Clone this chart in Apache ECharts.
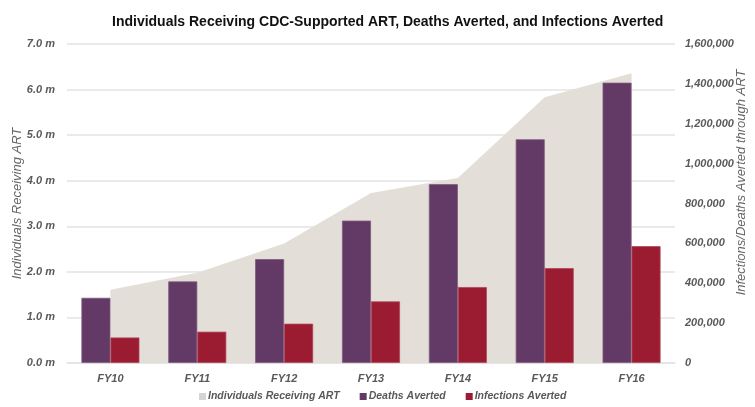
<!DOCTYPE html>
<html>
<head>
<meta charset="utf-8">
<script src="https://cdn.jsdelivr.net/npm/echarts@6/dist/echarts.min.js"></script>
<style>
html,body{margin:0;padding:0;background:#fff;}
#chart{width:755px;height:407px;}
</style>
</head>
<body>
<div id="chart"></div>
<script>
var categories = ['FY10','FY11','FY12','FY13','FY14','FY15','FY16'];
var individualsART = [1610000, 1980000, 2620000, 3730000, 4060000, 5830000, 6360000];
var deathsAverted = [327000, 409000, 521000, 714000, 897000, 1122000, 1406000];
var infectionsAverted = [128000, 157000, 197000, 309000, 381000, 476000, 586000];

var FONT = 'Liberation Sans, Arial, sans-serif';
var labelStyle = {color:'#595959', fontStyle:'italic', fontWeight:'bold', fontSize:11, fontFamily:FONT};
var nameStyle = {color:'#666', fontStyle:'italic', fontWeight:'normal', fontSize:13, fontFamily:FONT};

var chart = echarts.init(document.getElementById('chart'));
chart.setOption({
  animation:false,
  title:{
    text:'Individuals Receiving CDC-Supported ART, Deaths Averted, and Infections Averted',
    left:107, top:10,
    textStyle:{color:'#111', fontSize:14, fontWeight:'bold', fontFamily:FONT}
  },
  grid:{left:67, right:80, top:44, bottom:44, outerBoundsMode:'none', containLabel:false},
  legend:{
    bottom:0, left:194,
    itemWidth:7, itemHeight:7, itemGap:20,
    icon:'rect',
    itemStyle:{borderWidth:0},
    textStyle:Object.assign({}, labelStyle, {fontSize:10.5, padding:[0,0,0,-3]}),
    data:[
      {name:'Individuals Receiving ART', itemStyle:{color:'#d4d4d4', borderWidth:0}},
      {name:'Deaths Averted', itemStyle:{borderWidth:0}},
      {name:'Infections Averted', itemStyle:{borderWidth:0}}
    ]
  },
  xAxis:{
    type:'category', data:categories, boundaryGap:true,
    axisTick:{show:false},
    axisLine:{lineStyle:{color:'#e3e3e3', width:1.5}},
    axisLabel:Object.assign({}, labelStyle, {margin:10})
  },
  yAxis:[
    {
      type:'value', min:0, max:7000000, interval:1000000, position:'left',
      name:'Individuals Receiving ART', nameLocation:'middle', nameGap:43, nameMoveOverlap:false,
      nameTextStyle:nameStyle,
      axisLine:{show:false}, axisTick:{show:false},
      splitLine:{lineStyle:{color:'#e3e3e3', width:1.5}},
      axisLabel:Object.assign({}, labelStyle, {margin:12, formatter:function(v){return (v/1000000).toFixed(1)+' m';}})
    },
    {
      type:'value', min:0, max:1600000, interval:200000, position:'right',
      name:'Infections/Deaths Averted through ART', nameLocation:'middle', nameGap:60, nameRotate:90, nameMoveOverlap:false,
      nameTextStyle:Object.assign({}, nameStyle, {padding:[0,0,0,42]}),
      axisLine:{show:false}, axisTick:{show:false},
      splitLine:{show:false},
      axisLabel:Object.assign({}, labelStyle, {margin:10, formatter:function(v){return v.toLocaleString('en-US');}})
    }
  ],
  series:[
    {
      name:'Individuals Receiving ART', type:'line', yAxisIndex:0,
      data:individualsART, symbol:'none', z:1,
      lineStyle:{width:0}, itemStyle:{color:'#e4ded8'},
      areaStyle:{color:'#e4ded8', opacity:1}
    },
    {
      name:'Deaths Averted', type:'bar', yAxisIndex:1, data:deathsAverted,
      barWidth:29, barGap:'0%', z:3,
      itemStyle:{color:'#633a66', borderColor:'#7d5a80', borderWidth:0.8}
    },
    {
      name:'Infections Averted', type:'bar', yAxisIndex:1, data:infectionsAverted,
      barWidth:29, z:3,
      itemStyle:{color:'#9b1c31', borderColor:'#b0465a', borderWidth:0.8}
    }
  ]
});
</script>
</body>
</html>
